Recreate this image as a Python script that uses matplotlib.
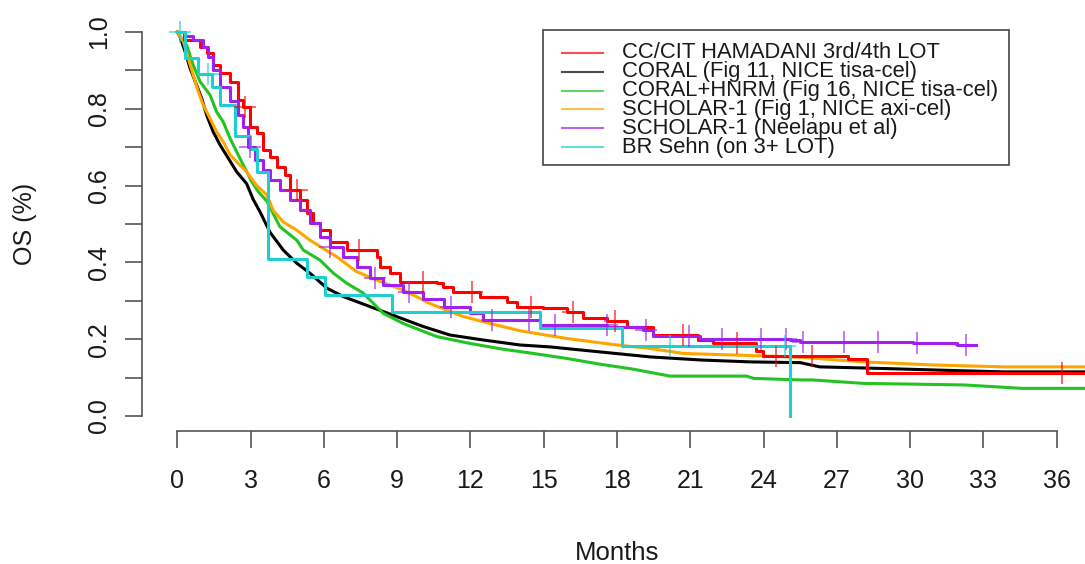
import numpy as np
import matplotlib
matplotlib.use("Agg")
import matplotlib.pyplot as plt
from matplotlib.lines import Line2D
from matplotlib.patches import Rectangle

plt.rcParams['font.family'] = ['Liberation Sans', 'DejaVu Sans']

# ---- data (months, survival proportion) ----
# step curves: value holds from each time until the next one
red_t = [0, 0.26, 0.93, 1.2, 1.48, 1.75, 2.16, 2.5, 2.7, 2.98, 3.25, 3.52, 3.8, 4.07, 4.41,
         4.61, 5.02, 5.3, 5.57, 5.84, 6.25, 6.93, 8.16, 8.3, 8.71, 9.12, 10.62, 10.89, 11.3,
         12.39, 13.48, 13.89, 14.98, 15.94, 16.62, 17.58, 18.4, 19.48, 21.33, 21.94, 23.7,
         23.99, 27.47, 28.22, 37.5]
red_s = [1.0, 0.98, 0.962, 0.944, 0.915, 0.892, 0.871, 0.823, 0.805, 0.753, 0.736, 0.693,
         0.675, 0.649, 0.628, 0.589, 0.5625, 0.528, 0.502, 0.484, 0.454, 0.432, 0.415, 0.389,
         0.372, 0.35, 0.346, 0.337, 0.324, 0.311, 0.298, 0.285, 0.28, 0.272, 0.254, 0.248,
         0.233, 0.211, 0.198, 0.189, 0.17, 0.156, 0.148, 0.111, 0.111]
red_cens = [2.77, 4.89, 7.45, 10.05, 12.05, 14.5, 16.2, 17.9, 20.7, 22.9, 24.5, 26.0, 36.2]

pur_t = [0, 0.3, 0.65, 1.07, 1.27, 1.48, 1.75, 2.16, 2.5, 2.7, 2.91, 3.18, 3.52, 3.8, 4.2,
         4.61, 5.02, 5.43, 5.84, 6.25, 6.8, 7.34, 7.89, 8.44, 9.25, 10.07, 10.9, 11.98, 12.52,
         14.85, 17.6, 19.07, 19.48, 21.4, 25.1, 25.5, 30.1, 31.9, 32.7]
pur_s = [1.0, 0.99, 0.979, 0.962, 0.936, 0.901, 0.858, 0.819, 0.784, 0.753, 0.701, 0.667,
         0.64, 0.615, 0.589, 0.5625, 0.536, 0.502, 0.467, 0.441, 0.415, 0.389, 0.359, 0.341,
         0.324, 0.306, 0.285, 0.267, 0.25, 0.237, 0.231, 0.224, 0.208, 0.2, 0.198, 0.193,
         0.19, 0.185, 0.185]
pur_cens = [2.98, 6.25, 8.1, 9.5, 11.2, 12.87, 14.4, 15.46, 17.58, 19.2, 20.95, 22.3, 23.9,
            24.9, 25.6, 27.3, 28.7, 30.3, 32.3]

cy_t = [0, 0.32, 0.86, 1.41, 1.75, 2.36, 2.98, 3.25, 3.71, 5.3, 6.05, 8.78, 14.85, 18.2, 25.08]
cy_s = [1.0, 0.933, 0.89, 0.856, 0.81, 0.73, 0.695, 0.635, 0.41, 0.363, 0.315, 0.272, 0.228,
        0.182, 0.0]
cy_cens = [0.12, 1.27, 20.17, 24.87]

# near-continuous curves
blk_t = [0, 0.1, 0.32, 0.52, 0.79, 1.0, 1.2, 1.47, 1.75, 2.09, 2.43, 2.84, 3.1, 3.4, 3.8,
         4.34, 4.89, 5.43, 6.12, 6.8, 7.89, 8.98, 10.07, 11.16, 12.52, 14.03, 15.25, 17.3,
         19.35, 21.4, 23.44, 25.5, 26.3, 28.76, 30.95, 33.8, 37.5]
blk_s = [1.0, 0.99, 0.949, 0.906, 0.862, 0.827, 0.784, 0.74, 0.706, 0.671, 0.636, 0.605,
         0.565, 0.53, 0.478, 0.432, 0.398, 0.372, 0.333, 0.311, 0.285, 0.259, 0.233, 0.211,
         0.198, 0.185, 0.18, 0.167, 0.154, 0.146, 0.141, 0.139, 0.128, 0.124, 0.12, 0.115, 0.115]

grn_t = [0, 0.1, 0.38, 0.65, 0.93, 1.34, 1.61, 1.88, 2.16, 2.43, 2.7, 3.05, 3.32, 3.66, 4.2,
         4.89, 5.16, 5.84, 6.39, 6.93, 7.61, 8.44, 9.25, 10.62, 11.98, 13.34, 14.57, 15.94,
         17.3, 18.67, 20.17, 23.3, 23.6, 25.5, 26.0, 28.1, 32.2, 34.6, 37.5]
grn_s = [1.0, 0.99, 0.966, 0.914, 0.871, 0.836, 0.792, 0.766, 0.723, 0.688, 0.654, 0.61,
         0.584, 0.56, 0.493, 0.458, 0.432, 0.406, 0.372, 0.346, 0.32, 0.267, 0.241, 0.207,
         0.189, 0.174, 0.163, 0.15, 0.135, 0.122, 0.104, 0.104, 0.098, 0.094, 0.094, 0.085,
         0.081, 0.072, 0.072]

org_t = [0, 0.1, 0.25, 0.45, 0.65, 0.86, 1.06, 1.34, 1.61, 1.88, 2.16, 2.43, 2.84, 3.25,
         3.66, 3.93, 4.34, 4.89, 5.43, 6.52, 7.34, 8.16, 9.25, 10.34, 11.71, 12.8, 14.03,
         15.94, 17.99, 19.35, 20.71, 22.76, 25.5, 28.1, 30.95, 33.9, 37.5]
org_s = [1.0, 0.99, 0.975, 0.931, 0.888, 0.845, 0.81, 0.775, 0.74, 0.714, 0.68, 0.662, 0.636,
         0.6, 0.576, 0.535, 0.505, 0.484, 0.458, 0.415, 0.376, 0.354, 0.328, 0.293, 0.259,
         0.241, 0.222, 0.202, 0.185, 0.176, 0.163, 0.159, 0.153, 0.141, 0.133, 0.128, 0.128]

labels = ["CC/CIT HAMADANI 3rd/4th LOT", "CORAL (Fig 11, NICE tisa-cel)",
          "CORAL+HNRM (Fig 16, NICE tisa-cel)", "SCHOLAR-1 (Fig 1, NICE axi-cel)",
          "SCHOLAR-1 (Neelapu et al)", "BR Sehn (on 3+ LOT)"]
colors = ["#FF0000", "#000000", "#22C322", "#FFA500", "#A020F0", "#1FCFCF"]

x_ticks = list(range(0, 37, 3))


def step_at(t, s, x):
    i = np.searchsorted(t, x, side='right') - 1
    return np.asarray(s)[i]


fig = plt.figure(figsize=(10.85, 5.64), dpi=100)
ax = fig.add_axes([142.1 / 1085, 1 - 431.4 / 564, 949.8 / 1085, 414.8 / 564])

lw = 2.2
ax.plot(blk_t, blk_s, color=colors[1], lw=lw)
ax.plot(grn_t, grn_s, color=colors[2], lw=lw)
ax.plot(org_t, org_s, color=colors[3], lw=lw)
ax.plot(red_t, red_s, color=colors[0], lw=lw, drawstyle='steps-post')
ax.plot(pur_t, pur_s, color=colors[4], lw=lw, drawstyle='steps-post')
ax.plot(cy_t, cy_s, color=colors[5], lw=lw, drawstyle='steps-post')

# censoring marks
for t, s, c, cens in [(red_t, red_s, colors[0], red_cens),
                      (pur_t, pur_s, colors[4], pur_cens),
                      (cy_t, cy_s, colors[5], cy_cens)]:
    ax.plot(cens, step_at(t, s, cens), ls='none', marker='+', ms=16, mew=1.3,
            color=c, alpha=0.65)

ax.set_xlim(-1.44, 37.44)
ax.set_ylim(-0.04, 1.04)

for side in ['top', 'right']:
    ax.spines[side].set_visible(False)
ax.spines['left'].set_bounds(0, 1)
ax.spines['bottom'].set_bounds(0, 36)
for side in ['left', 'bottom']:
    ax.spines[side].set_color('#555555')
    ax.spines[side].set_linewidth(1.2)

ax.set_xticks(x_ticks)
ax.set_yticks([0, 0.2, 0.4, 0.6, 0.8, 1.0])
ax.set_yticklabels(['0.0', '0.2', '0.4', '0.6', '0.8', '1.0'])
ax.set_yticks([0.1, 0.3, 0.5, 0.7, 0.9], minor=True)
ax.tick_params(axis='both', which='both', length=12.2, width=1.2, color='#555555',
               labelsize=18, labelcolor='#1a1a1a')
ax.tick_params(axis='x', pad=15)
ax.tick_params(axis='y', pad=10)
plt.setp(ax.get_yticklabels(), rotation=90, va='center')

fig.text(617 / 1085, 1 - 553 / 564, 'Months', ha='center', va='center', fontsize=18.5,
         color='#1a1a1a')
fig.text(25 / 1085, 1 - 224 / 564, 'OS (%)', ha='center', va='center', fontsize=18,
         color='#1a1a1a', rotation=90)

# legend box drawn like base R
fig.add_artist(Rectangle((543 / 1085, 1 - 165 / 564), 466 / 1085, 135 / 564,
                         transform=fig.transFigure, fill=False, ec='#444444', lw=1.2))
for i, (lab, c) in enumerate(zip(labels, colors)):
    yy = 1 - (53 + 18.8 * i) / 564
    fig.add_artist(Line2D([562 / 1085, 603 / 1085], [yy, yy], transform=fig.transFigure,
                          color=c, lw=1.5, alpha=0.7))
    fig.text(622 / 1085, yy, lab, ha='left', va='center', fontsize=15.8, color='#1a1a1a')

fig.savefig('out.png', dpi=100)
